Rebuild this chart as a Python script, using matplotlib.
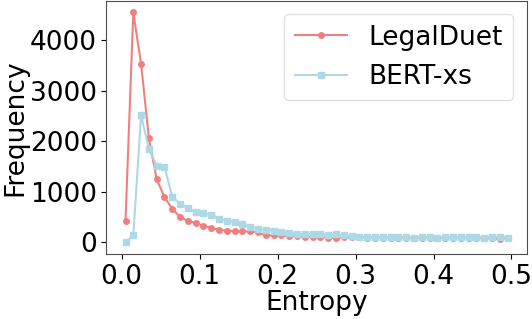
import numpy as np
import matplotlib
matplotlib.use("Agg")
import matplotlib.pyplot as plt

entropy = [0.005 + 0.01 * i for i in range(50)]

legalduet = [431, 4542, 3523, 2059, 1248, 895, 660, 503, 425, 386,
             327, 288, 248, 235, 222, 216, 216, 203, 137, 137,
             137, 124, 118, 110, 110, 105, 92, 90, 98, 100,
             98, 95, 92, 90, 92, 88, 92, 85, 90, 92,
             88, 90, 85, 88, 92, 85, 88, 80, 65, 92]

bert_xs = [0, 137, 2516, 1843, 1516, 1497, 902, 765, 673, 595,
           575, 549, 471, 425, 412, 359, 301, 268, 255, 229,
           203, 196, 157, 176, 170, 163, 150, 157, 137, 124,
           115, 110, 110, 108, 105, 100, 98, 95, 100, 98,
           95, 100, 105, 98, 100, 105, 95, 110, 112, 95]

plt.rcParams['font.size'] = 19
fig = plt.figure(figsize=(5.32, 3.19), dpi=100)
ax = fig.add_axes([0.2, 0.204, 0.79, 0.793])

ax.plot(entropy, legalduet, color='lightcoral', marker='o', markersize=4, linewidth=1.5, label='LegalDuet')
ax.plot(entropy, bert_xs, color='lightblue', marker='s', markersize=4, linewidth=1.5, label='BERT-xs')

ax.set_xlabel('Entropy', labelpad=0.5)
ax.set_ylabel('Frequency', labelpad=1)
ax.set_xticks([0.0, 0.1, 0.2, 0.3, 0.4, 0.5])
ax.set_yticks([0, 1000, 2000, 3000, 4000])
for s in ax.spines.values():
    s.set_color('0.3')
ax.legend(loc='upper right', fontsize=19, edgecolor='0.85')

fig.savefig('out.png', dpi=100)
